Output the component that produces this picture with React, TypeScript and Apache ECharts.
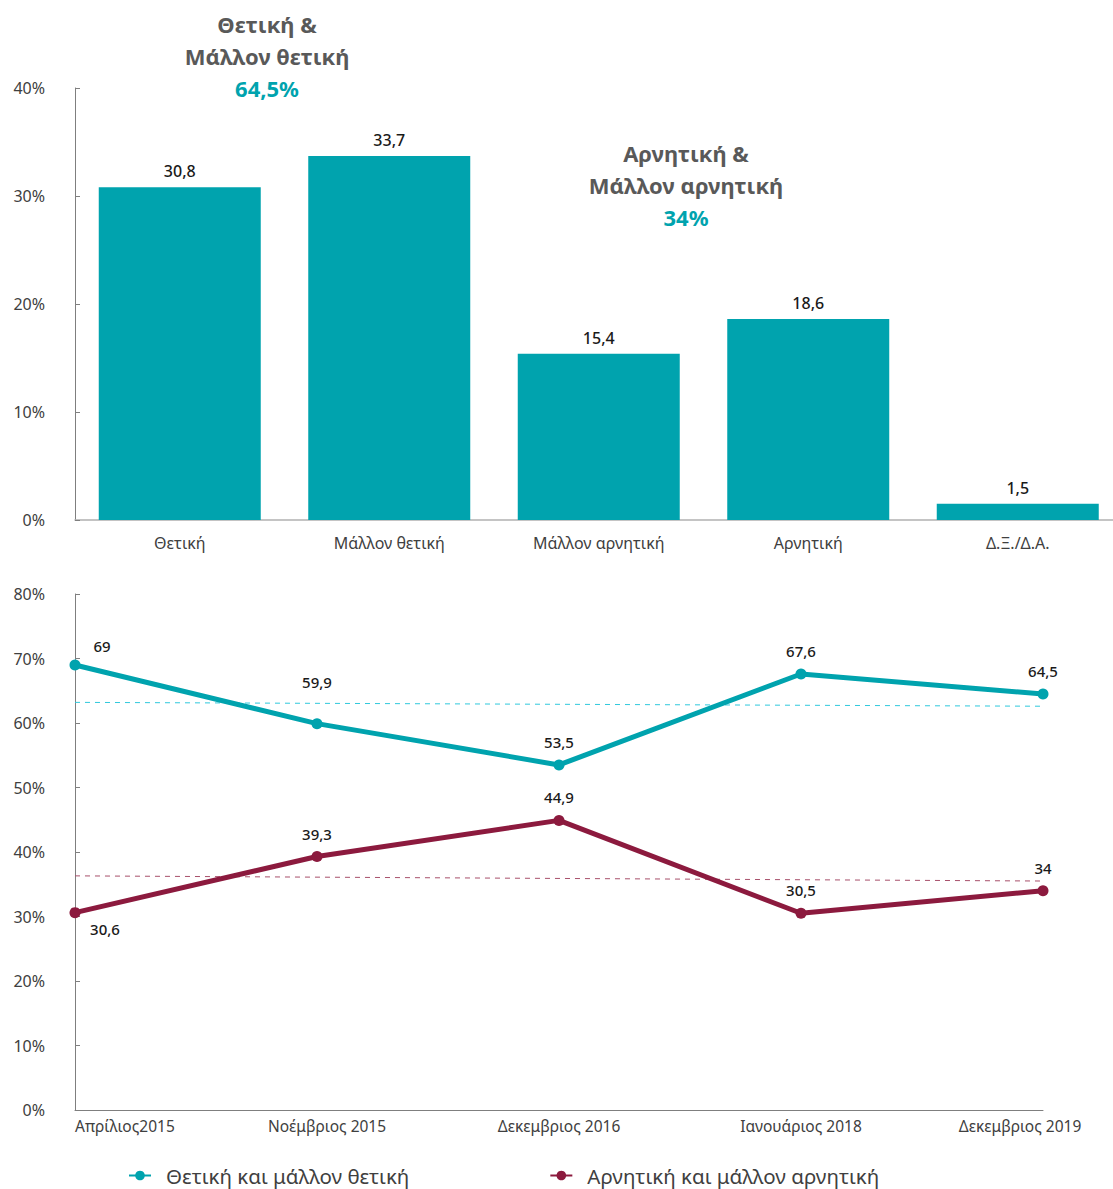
import React, { useEffect, useRef } from "react";
import * as echarts from "echarts";

const barCategories = ["Θετική", "Μάλλον θετική", "Μάλλον αρνητική", "Αρνητική", "Δ.Ξ./Δ.Α."];
const barValues = [30.8, 33.7, 15.4, 18.6, 1.5];
const barTicks = [0, 10, 20, 30, 40];

const lineCategories = ["Απρίλιος2015", "Νοέμβριος 2015", "Δεκεμβριος 2016", "Ιανουάριος 2018", "Δεκεμβριος 2019"];
const positiveName = "Θετική και μάλλον θετική";
const negativeName = "Αρνητική και μάλλον αρνητική";
const positiveValues = [69, 59.9, 53.5, 67.6, 64.5];
const negativeValues = [30.6, 39.3, 44.9, 30.5, 34];
// linear trend lines: [first point, last point]
const positiveTrend = [63.2, 62.6];
const negativeTrend = [36.3, 35.5];
const lineTicks = [0, 10, 20, 30, 40, 50, 60, 70, 80];

const annotationLeft = ["Θετική &", "Μάλλον θετική", "64,5%"];
const annotationRight = ["Αρνητική &", "Μάλλον αρνητική", "34%"];

const TEAL = "#00a3ae";
const MAROON = "#8c1a3e";
const FONT = "'Noto Sans', 'Open Sans', sans-serif";

const fmt = (v: number) => String(v).replace(".", ",");

export default function App() {
  const ref = useRef<HTMLDivElement>(null);
  useEffect(() => {
    if (!ref.current) return;
    const chart = echarts.init(ref.current, undefined, { renderer: "svg" });

    const posLabels = [
      { position: "top", offset: [27, 4] },
      { position: "top", offset: [0, -19] },
      { position: "top", offset: [0, 0] },
      { position: "top", offset: [0, 0] },
      { position: "top", offset: [0, 0] },
    ];
    const negLabels = [
      { position: "bottom", offset: [30, -7] },
      { position: "top", offset: [0, 0] },
      { position: "top", offset: [0, 0] },
      { position: "top", offset: [0, 0] },
      { position: "top", offset: [0, 0] },
    ];

    const annoText = (lines: string[], cx: number, y0: number) =>
      lines.map((t, i) => ({
        type: "text",
        x: cx,
        y: y0 + i * 32,
        style: {
          text: t,
          fontSize: 22,
          fontWeight: "bold",
          fontFamily: FONT,
          fill: i === 2 ? TEAL : "#595959",
          textAlign: "center",
          textVerticalAlign: "middle",
          align: "center",
          verticalAlign: "middle",
        },
      }));

    const axisLabelStyle = { color: "#404040", fontSize: 16, fontFamily: FONT };

    chart.setOption({
      animation: false,
      textStyle: { fontFamily: FONT },
      grid: [
        { left: 75, right: 0.5, top: 88, bottom: 669 },
        { left: 75, right: 80, top: 594, bottom: 79 },
      ],
      xAxis: [
        {
          gridIndex: 0,
          type: "category",
          data: barCategories,
          axisLine: { lineStyle: { color: "#b0b0b0", width: 1.5 } },
          axisTick: { inside: true, length: 5, lineStyle: { color: "#808080" } },
          axisLabel: { ...axisLabelStyle, margin: 15, interval: 0 },
        },
        {
          gridIndex: 1,
          type: "category",
          data: lineCategories,
          boundaryGap: false,
          axisLine: { lineStyle: { color: "#7f7f7f", width: 1 } },
          axisTick: { show: false },
          axisLabel: {
            ...axisLabelStyle,
            fontSize: 15.5,
            margin: 8,
            interval: 0,
            hideOverlap: false,
            alignMinLabel: "left",
            formatter: (v: string, i: number) =>
              i === lineCategories.length - 1 ? `{last|${v}}` : i === 1 ? `{second|${v}}` : v,
            rich: {
              last: { ...axisLabelStyle, fontSize: 15.5, padding: [0, 46, 0, 0] },
              second: { ...axisLabelStyle, fontSize: 15.5, padding: [0, 0, 0, 20] },
            },
          },
        },
      ],
      yAxis: [
        {
          gridIndex: 0,
          type: "value",
          min: barTicks[0],
          max: barTicks[barTicks.length - 1],
          interval: 10,
          splitLine: { show: false },
          axisLine: { show: true, lineStyle: { color: "#7f7f7f" } },
          axisTick: { show: true, inside: true, length: 5, lineStyle: { color: "#7f7f7f" } },
          axisLabel: { ...axisLabelStyle, margin: 30, formatter: "{value}%" },
        },
        {
          gridIndex: 1,
          type: "value",
          min: lineTicks[0],
          max: lineTicks[lineTicks.length - 1],
          interval: 10,
          splitLine: { show: false },
          axisLine: { show: true, lineStyle: { color: "#7f7f7f" } },
          axisTick: { show: true, inside: true, length: 5, lineStyle: { color: "#7f7f7f" } },
          axisLabel: { ...axisLabelStyle, margin: 30, formatter: "{value}%" },
        },
      ],
      legend: {
        data: [positiveName, negativeName],
        top: 1165,
        left: 128,
        padding: 0,
        itemWidth: 22,
        itemHeight: 12,
        itemGap: 140,
        textStyle: {
          fontSize: 20.5,
          lineHeight: 21,
          color: "#404040",
          fontFamily: FONT,
          padding: [0, 0, 0, 10],
        },
      },
      graphic: [...annoText(annotationLeft, 267, 24), ...annoText(annotationRight, 686, 153)],
      series: [
        {
          type: "bar",
          xAxisIndex: 0,
          yAxisIndex: 0,
          data: barValues,
          barWidth: 162,
          itemStyle: { color: TEAL },
          label: {
            show: true,
            position: "top",
            distance: 8,
            color: "#1a1a1a",
            fontSize: 16,
            fontWeight: 500,
            formatter: (p: any) => fmt(p.value),
          },
        },
        {
          name: positiveName,
          type: "line",
          xAxisIndex: 1,
          yAxisIndex: 1,
          data: positiveValues.map((v, i) => ({ value: v, label: posLabels[i] })),
          symbol: "circle",
          symbolSize: 11,
          lineStyle: { color: TEAL, width: 5 },
          itemStyle: { color: TEAL },
          label: {
            show: true,
            distance: 10,
            color: "#1a1a1a",
            fontSize: 15,
            fontWeight: 500,
            formatter: (p: any) => fmt(p.value),
          },
          z: 3,
        },
        {
          name: negativeName,
          type: "line",
          xAxisIndex: 1,
          yAxisIndex: 1,
          data: negativeValues.map((v, i) => ({ value: v, label: negLabels[i] })),
          symbol: "circle",
          symbolSize: 11,
          lineStyle: { color: MAROON, width: 5 },
          itemStyle: { color: MAROON },
          label: {
            show: true,
            distance: 10,
            color: "#1a1a1a",
            fontSize: 15,
            fontWeight: 500,
            formatter: (p: any) => fmt(p.value),
          },
          z: 3,
        },
        {
          name: "trendPos",
          type: "line",
          xAxisIndex: 1,
          yAxisIndex: 1,
          data: [[0, positiveTrend[0]], [lineCategories.length - 1, positiveTrend[1]]],
          symbol: "none",
          silent: true,
          lineStyle: { color: "#2fc8dc", width: 1, type: [5, 5] },
          z: 2,
        },
        {
          name: "trendNeg",
          type: "line",
          xAxisIndex: 1,
          yAxisIndex: 1,
          data: [[0, negativeTrend[0]], [lineCategories.length - 1, negativeTrend[1]]],
          symbol: "none",
          silent: true,
          lineStyle: { color: "#a8506b", width: 1, type: [5, 5] },
          z: 2,
        },
      ],
    });
    return () => chart.dispose();
  }, []);
  return (
    <div
      style={{ position: "absolute", left: 0, top: 0, width: 1113, height: 1189, overflow: "hidden" }}
    >
      <div ref={ref} style={{ width: 1123, height: 1189 }} />
    </div>
  );
}
